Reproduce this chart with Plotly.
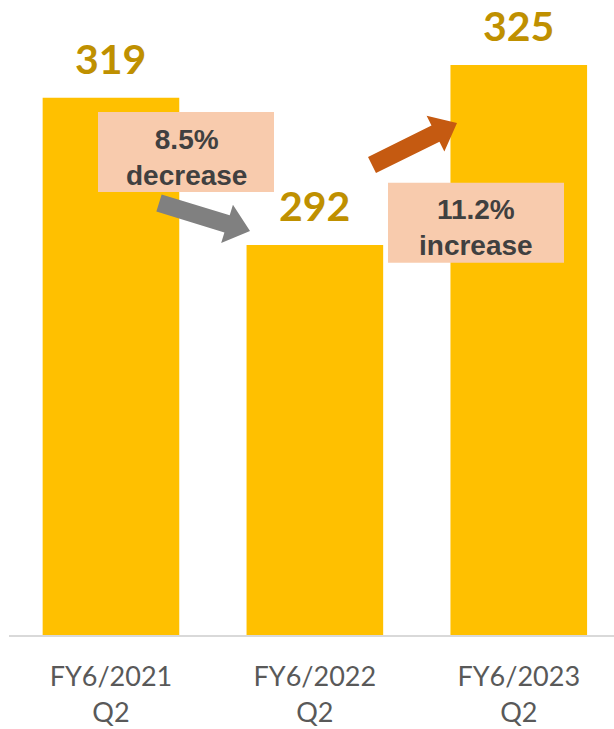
import plotly.graph_objects as go

# ---- data ----
periods = ["FY6/2021", "FY6/2022", "FY6/2023"]
quarters = ["Q2", "Q2", "Q2"]
values = [319, 292, 325]
change_labels = ["8.5%<br>decrease", "11.2%<br>increase"]

# ---- style ----
BAR = "#FFC000"
VAL = "#BF9000"
BOX = "#F8CBAD"
TXT = "#404040"
AX = "#595959"

W, H = 614, 729
ML, MR, MT, MB = 9, 0, 0, 94
PW, PH = W - ML - MR, H - MT - MB


def px(x):
    return (x - ML) / PW


def py(y):
    return 1 - (y - MT) / PH


def block_arrow(sx, sy, ex, ey, w=18, hw=40, hl=24):
    dx, dy = ex - sx, ey - sy
    L = (dx * dx + dy * dy) ** 0.5
    ux, uy = dx / L, dy / L
    nx, ny = -uy, ux
    bx, by = ex - ux * hl, ey - uy * hl
    pts = [
        (sx + nx * w / 2, sy + ny * w / 2),
        (bx + nx * w / 2, by + ny * w / 2),
        (bx + nx * hw / 2, by + ny * hw / 2),
        (ex, ey),
        (bx - nx * hw / 2, by - ny * hw / 2),
        (bx - nx * w / 2, by - ny * w / 2),
        (sx - nx * w / 2, sy - ny * w / 2),
    ]
    return "M " + " L ".join(f"{px(a):.5f},{py(b):.5f}" for a, b in pts) + " Z"


xlabels = [f"{p}<br>{q}" for p, q in zip(periods, quarters)]
xs = list(range(len(values)))

fig = go.Figure()
fig.add_trace(go.Bar(
    x=xs, y=values, marker=dict(color=BAR, line=dict(width=0)),
    width=0.67, hoverinfo="skip",
))

annotations = []
for x, v in zip(xs, values):
    annotations.append(dict(
        x=x, y=v, xref="x", yref="y", text=f"<b>{v}</b>", showarrow=False,
        yanchor="bottom", yshift=13,
        font=dict(family="Lato", size=41, color=VAL),
    ))

shapes = []
box_centers = [(186, 152), (476, 222.7)]
BW, BH = 176, 80
for (cx, cy), t in zip(box_centers, change_labels):
    shapes.append(dict(
        type="rect", xref="paper", yref="paper",
        x0=px(cx - BW / 2), x1=px(cx + BW / 2),
        y0=py(cy + BH / 2), y1=py(cy - BH / 2),
        fillcolor=BOX, line=dict(width=0), layer="above",
    ))
    annotations.append(dict(
        x=px(cx), y=py(cy + 5), xref="paper", yref="paper", text=f"<b>{t}</b>",
        showarrow=False, xanchor="center", yanchor="middle",
        font=dict(family="Liberation Sans", size=28, color=TXT),
    ))

shapes += [
    dict(type="path", xref="paper", yref="paper",
         path=block_arrow(159, 203, 250, 231), fillcolor="#808080",
         line=dict(width=0), layer="above"),
    dict(type="path", xref="paper", yref="paper",
         path=block_arrow(372, 165, 457, 123), fillcolor="#C55A11",
         line=dict(width=0), layer="above"),
]

ymin = 220.5
scale = 5.455
fig.update_layout(
    width=W, height=H,
    margin=dict(l=ML, r=MR, t=MT, b=MB, pad=0),
    plot_bgcolor="white", paper_bgcolor="white",
    showlegend=False,
    annotations=annotations,
    shapes=shapes,
    xaxis=dict(
        tickmode="array", tickvals=xs, ticktext=xlabels,
        range=[-0.5, 2.467], showgrid=False, zeroline=False,
        showline=True, linecolor="#D9D9D9", linewidth=2,
        ticks="", tickfont=dict(family="Lato", size=27, color=AX),
        ticklabelstandoff=17,
    ),
    yaxis=dict(
        range=[ymin, ymin + PH / scale], visible=False,
        showgrid=False, zeroline=False,
    ),
)

fig.write_html("out.html")
